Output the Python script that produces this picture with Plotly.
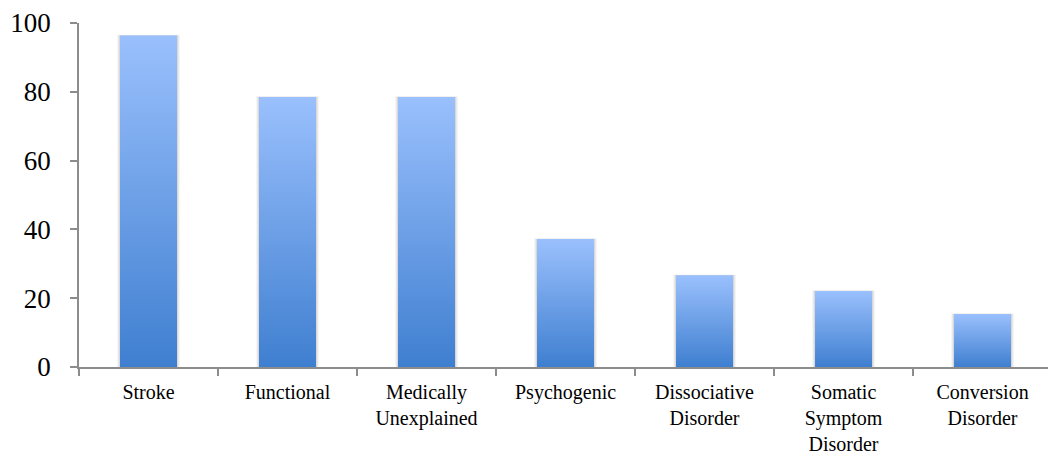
import plotly.graph_objects as go

# Share of respondents per diagnostic term
categories = ["Stroke", "Functional", "Medically<br>Unexplained", "Psychogenic",
              "Dissociative<br>Disorder", "Somatic<br>Symptom<br>Disorder",
              "Conversion<br>Disorder"]
values = [96.4, 78.5, 78.5, 37.2, 26.7, 22.1, 15.4]
y_ticks = [0, 20, 40, 60, 80, 100]

BAR_W = 0.41
TOP_COLOR = "#9ac0fd"
BOTTOM_COLOR = "#3f7fd0"
FONT = "Liberation Serif"

fig = go.Figure()

for i, v in enumerate(values):
    x0, x1 = i - BAR_W / 2, i + BAR_W / 2
    # soft drop shadow under each bar
    for k, a in [(3, 0.035), (2, 0.05), (1, 0.07)]:
        dx = 0.0075 * k
        dy = 0.3 * k
        fig.add_trace(go.Scatter(
            x=[x0 - dx, x1 + dx, x1 + dx, x0 - dx, x0 - dx],
            y=[-dy * 1.6, -dy * 1.6, v + dy * 0.2, v + dy * 0.2, -dy * 1.6],
            mode="lines", line=dict(width=0), fill="toself",
            fillcolor=f"rgba(0,0,0,{a})", hoverinfo="skip", showlegend=False,
            cliponaxis=False,
        ))
    # bar with vertical gradient from dark base to light top
    fig.add_trace(go.Scatter(
        x=[x0, x1, x1, x0, x0],
        y=[0, 0, v, v, 0],
        mode="lines", line=dict(width=0), fill="toself",
        fillgradient=dict(type="vertical", start=0, stop=v,
                          colorscale=[[0, BOTTOM_COLOR], [1, TOP_COLOR]]),
        hoverinfo="skip", showlegend=False,
    ))

fig.update_layout(
    width=1048, height=457,
    margin=dict(l=79, r=0, t=23, b=90),
    paper_bgcolor="white", plot_bgcolor="white",
    font=dict(family=FONT, color="black"),
    xaxis=dict(
        range=[-0.5, 6.471],
        tickmode="array", tickvals=list(range(len(categories))),
        ticktext=categories, ticks="",
        tickfont=dict(size=20),
        ticklabelstandoff=6,
        showline=True, linecolor="#8c8c8c", linewidth=1.5,
        showgrid=False, zeroline=False,
        minor=dict(tickmode="linear", tick0=0.5, dtick=1, ticks="outside",
                   ticklen=7, tickwidth=1.5, tickcolor="#8c8c8c", showgrid=False),
    ),
    yaxis=dict(
        range=[0, 100],
        tickmode="array", tickvals=y_ticks,
        ticks="outside", ticklen=7, tickwidth=1.5, tickcolor="#8c8c8c",
        tickfont=dict(size=27),
        ticklabelstandoff=14,
        showline=True, linecolor="#8c8c8c", linewidth=1.5,
        showgrid=False, zeroline=False,
    ),
)

fig.write_html("out.html")
